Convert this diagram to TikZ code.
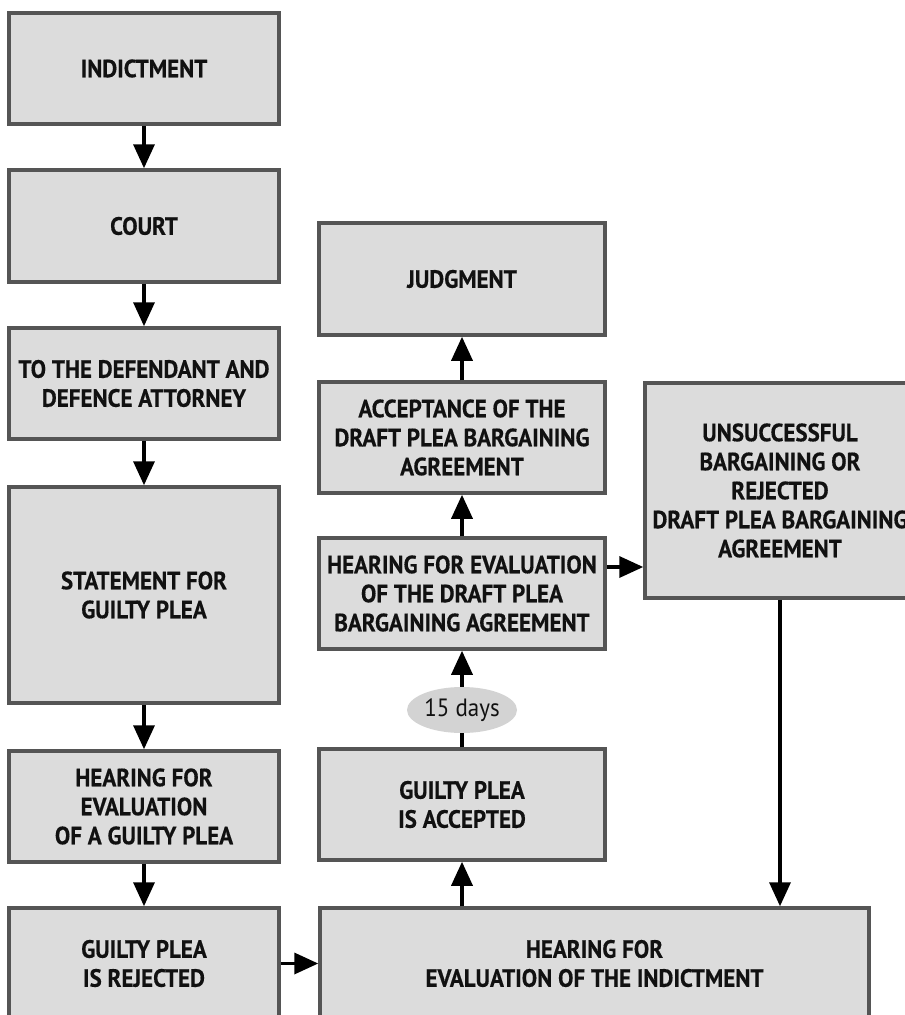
\documentclass[tikz,border=0pt]{standalone}
\usepackage{fontspec}
\setmainfont[FakeStretch=0.92,BoldFeatures={FakeBold=0.4}]{PT Sans}
\usetikzlibrary{arrows.meta,shapes.geometric}
\definecolor{boxfill}{HTML}{DCDCDC}
\definecolor{boxline}{HTML}{555555}
\definecolor{ovalfill}{HTML}{D3D3D3}
\definecolor{ink}{HTML}{111111}
\begin{document}
\begin{tikzpicture}[x=1pt,y=-1pt,
  stagebox/.style={draw=boxline, line width=3.5pt, fill=boxfill, rectangle,
    inner sep=0pt, align=center, text=ink,
    font=\fontsize{25}{29}\selectfont\bfseries},
  leftbox/.style={stagebox, minimum width=270pt},
  midbox/.style={stagebox, minimum width=286pt},
  arr/.style={line width=3.5pt, -{Triangle[length=24pt,width=21pt]}},
  plain/.style={line width=3.5pt}]
\useasboundingbox (0,0) rectangle (905,1015);
\begin{scope}
\clip (0,0) rectangle (905,1015);
% left column
\node[leftbox, minimum height=111pt] (indict) at (144,68.5) {INDICTMENT};
\node[leftbox, minimum height=112pt] (court) at (144,226) {COURT};
\node[leftbox, minimum height=111pt] (defend) at (144,383.5) {TO THE DEFENDANT AND\\DEFENCE ATTORNEY};
\node[leftbox, minimum height=216pt] (stmt) at (144,595) {STATEMENT FOR\\GUILTY PLEA};
\node[leftbox, minimum height=111pt] (hgp) at (144,806.5) {HEARING FOR\\EVALUATION\\OF A GUILTY PLEA};
\node[leftbox, minimum height=111pt] (rej) at (144,963.5) {GUILTY PLEA\\IS REJECTED};
% middle column
\node[midbox, minimum height=112pt] (judg) at (462,279) {JUDGMENT};
\node[midbox, minimum height=111pt] (accept) at (462,437.5) {ACCEPTANCE OF THE\\DRAFT PLEA BARGAINING\\AGREEMENT};
\node[midbox, minimum height=111pt] (draft) at (462,593.5) {HEARING FOR EVALUATION\\OF THE DRAFT PLEA\\BARGAINING AGREEMENT};
\node[midbox, minimum height=111pt] (gpa) at (462,804.5) {GUILTY PLEA\\IS ACCEPTED};
% bottom and right boxes
\node[stagebox, minimum width=549pt, minimum height=111pt] (ihear) at (594.5,963.5) {HEARING FOR\\EVALUATION OF THE INDICTMENT};
\node[stagebox, minimum width=270pt, minimum height=215pt] (fail) at (780,490.5) {UNSUCCESSFUL\\BARGAINING OR\\REJECTED\\DRAFT PLEA BARGAINING\\AGREEMENT};
% time limit
\node[ellipse, fill=ovalfill, minimum width=110pt, minimum height=46pt, inner sep=0pt,
  text=ink, font=\fontsize{25}{29}\selectfont] (days) at (462,710) {15 days};
\end{scope}
% connectors down the left column
\draw[arr] (indict) -- (court);
\draw[arr] (court) -- (defend);
\draw[arr] (defend) -- (stmt);
\draw[arr] (stmt) -- (hgp);
\draw[arr] (hgp) -- (rej);
\draw[arr] (rej) -- (ihear.west |- rej.east);
% connectors up the middle column
\draw[arr] (ihear.north -| gpa.south) -- (gpa.south);
\draw[plain] (gpa.north) -- (days.south);
\draw[arr] (days.north) -- (draft.south);
\draw[arr] (draft) -- (accept);
\draw[arr] (accept) -- (judg);
% unsuccessful branch
\path ([yshift=26.5pt]draft.east) coordinate (d1);
\draw[arr] (d1) -- (d1 -| fail.west);
\draw[arr] (fail.south) -- (fail.south |- ihear.north);
\end{tikzpicture}
\end{document}
